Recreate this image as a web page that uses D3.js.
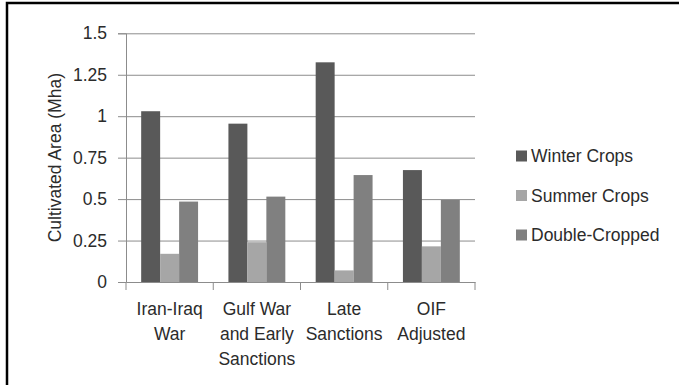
<!DOCTYPE html>
<html>
<head>
<meta charset="utf-8">
<script src="https://cdn.jsdelivr.net/npm/d3@7"></script>
<style>
  html, body { margin: 0; padding: 0; background: #fff; }
  svg { display: block; }
  text { font-family: "Liberation Sans", Arial, sans-serif; fill: #2b2b2b; }
</style>
</head>
<body>
<svg id="chart" width="679" height="385"></svg>
<script>
// Cultivated area by period (million hectares)
const categories = [
  ["Iran-Iraq", "War"],
  ["Gulf War", "and Early", "Sanctions"],
  ["Late", "Sanctions"],
  ["OIF", "Adjusted"]
];
const seriesNames = ["Winter Crops", "Summer Crops", "Double-Cropped"];
const winterCrops   = [1.03, 0.955, 1.325, 0.675];
const summerCrops   = [0.17, 0.24, 0.07, 0.215];
const doubleCropped = [0.485, 0.515, 0.645, 0.495];
const yTicks = [0, 0.25, 0.5, 0.75, 1, 1.25, 1.5];
const yTickLabels = ["0", "0.25", "0.5", "0.75", "1", "1.25", "1.5"];
const colors = ["#595959", "#a6a6a6", "#808080"];

const seriesValues = [winterCrops, summerCrops, doubleCropped];
const catKeys = categories.map(c => c.join(" "));

const svg = d3.select("#chart");

// frame around the chart area
svg.append("rect")
  .attr("x", 7).attr("y", 3)
  .attr("width", 720).attr("height", 420)
  .attr("fill", "#fff")
  .attr("stroke", "#000")
  .attr("stroke-width", 2.5);

const x0 = 126, x1 = 475, yBase = 282, yTop = 33.3;

const x = d3.scaleBand().domain(catKeys).range([x0, x1]).paddingInner(0).paddingOuter(0);
const xs = d3.scaleBand().domain(seriesNames).range([0, x.bandwidth()])
  .paddingInner(0).paddingOuter(0.8);
const y = d3.scaleLinear().domain([0, 1.5]).range([yBase, yTop]);

const gridColor = "#8c8c8c";

// horizontal gridlines with left tick marks
const yAxis = d3.axisLeft(y)
  .tickValues(yTicks)
  .tickFormat((d, i) => yTickLabels[i])
  .tickSize(8)
  .tickPadding(11);
const gy = svg.append("g").attr("transform", `translate(${x0},0)`).call(yAxis);
gy.select(".domain").attr("stroke", gridColor);
gy.selectAll(".tick line").attr("stroke", gridColor);
gy.selectAll(".tick text")
  .style("font-size", "17.5px")
  .attr("fill", "#2b2b2b");
gy.selectAll(".tick").filter(d => d !== 0)
  .append("line")
  .attr("x1", 0).attr("x2", x1 - x0)
  .attr("stroke", gridColor).attr("stroke-width", 1);

// bars
const groups = svg.append("g").selectAll("g")
  .data(catKeys)
  .join("g")
  .attr("transform", d => `translate(${x(d)},0)`);
groups.selectAll("rect")
  .data((d, ci) => seriesNames.map((s, si) => ({ s, si, v: seriesValues[si][ci] })))
  .join("rect")
  .attr("x", d => xs(d.s))
  .attr("width", xs.bandwidth())
  .attr("y", d => y(d.v))
  .attr("height", d => yBase - y(d.v))
  .attr("fill", d => colors[d.si]);

// category axis
const xAxis = d3.axisBottom(x).tickSize(0).tickFormat("");
const gx = svg.append("g").attr("transform", `translate(0,${yBase})`).call(xAxis);
gx.select(".domain").attr("stroke", gridColor);
const boundaries = catKeys.map(k => x(k)).concat([x1]);
gx.selectAll(".bnd")
  .data(boundaries)
  .join("line")
  .attr("class", "bnd")
  .attr("x1", d => d).attr("x2", d => d)
  .attr("y1", 0).attr("y2", 8)
  .attr("stroke", gridColor);

// multi-line category labels
const labels = svg.append("g").selectAll("text")
  .data(categories)
  .join("text")
  .attr("text-anchor", "middle")
  .style("font-size", "17.5px")
  .attr("x", (d, i) => x(catKeys[i]) + x.bandwidth() / 2)
  .attr("y", 315);
labels.selectAll("tspan")
  .data(d => d)
  .join("tspan")
  .attr("x", function () { return d3.select(this.parentNode).attr("x"); })
  .attr("dy", (d, i) => i === 0 ? 0 : 25)
  .text(d => d);

// y-axis title
svg.append("text")
  .attr("transform", `translate(61,${(yBase + yTop) / 2}) rotate(-90)`)
  .attr("text-anchor", "middle")
  .style("font-size", "17.5px")
  .text("Cultivated Area (Mha)");

// legend
const legend = svg.append("g").selectAll("g")
  .data(seriesNames)
  .join("g")
  .attr("transform", (d, i) => `translate(516,${156 + i * 39.5})`);
legend.append("rect")
  .attr("x", 0).attr("y", -5.5)
  .attr("width", 11).attr("height", 11)
  .attr("fill", (d, i) => colors[i]);
legend.append("text")
  .attr("x", 15).attr("y", 6)
  .style("font-size", "17.5px")
  .text(d => d);
</script>
</body>
</html>
